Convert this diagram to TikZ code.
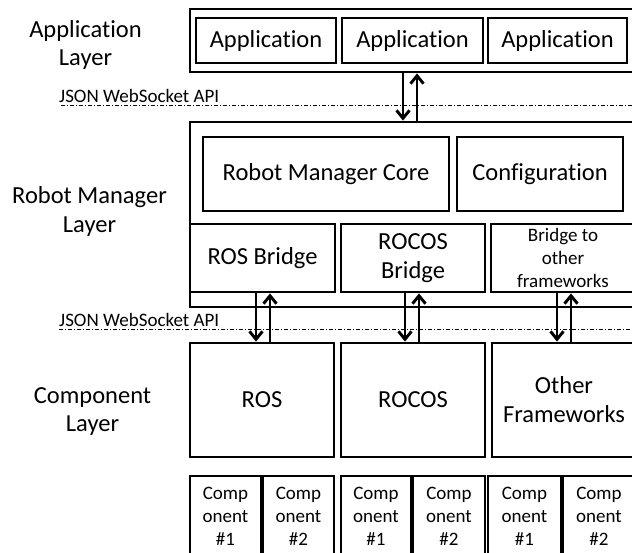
\documentclass[tikz,border=0pt]{standalone}
\usepackage{fontspec}
\setmainfont{Carlito}[Ligatures={NoCommon,NoContextual}]
\usetikzlibrary{arrows.meta,calc}
\begin{document}
\begin{tikzpicture}[x=1pt,y=-1pt,
  box/.style={draw,line width=2.8pt,inner sep=0pt,align=center},
  big/.style={font=\fontsize{24.5}{29}\selectfont},
  small/.style={font=\fontsize{19}{23}\selectfont},
  lbl/.style={inner sep=0pt,align=center,font=\fontsize{24.5}{28.5}\selectfont},
  arr/.style={line width=2.9pt,-{Straight Barb[length=8pt,width=13pt]}},
  api/.style={line width=0.8pt,dash pattern=on 4pt off 2pt on 1pt off 2pt},
  apitext/.style={inner sep=0pt,anchor=base west,font=\fontsize{19}{23}\selectfont}]
\useasboundingbox (0,0) rectangle (632,552);
\clip (0,0) rectangle (632,552);
\fill[white] (0,0) rectangle (632,552);

% layer labels
\node[lbl] (lapp) at (85.5,45) {Application\\Layer};
\node[lbl] (lrm) at (89.5,211.5) {Robot Manager\\Layer};
\node[lbl] (lcomp) at (92.5,411.5) {Component\\Layer};

% API lines
\coordinate (api1) at (61,105);
\coordinate (api1e) at (640,105);
\coordinate (api2) at (59,329);
\coordinate (api2e) at (640,329);
\draw[api] (api1) -- (api1e);
\draw[api] (api2) -- (api2e);
\node[apitext] (t1) at (59,102) {JSON WebSocket API};
\node[apitext] (t2) at (59,326.5) {JSON WebSocket API};

% application layer
\node[box,minimum width=460,minimum height=63] (appouter) at (420,40.5) {};
\node[box,big,minimum width=140,minimum height=45] (app1) at (266,40.5) {Application};
\node[box,big,minimum width=141,minimum height=45] (app2) at (412.5,40.5) {Application};
\node[box,big,minimum width=139,minimum height=45] (app3) at (557.5,40.5) {Application};

% robot manager layer
\node[box,minimum width=460,minimum height=185] (rmouter) at (420,214.5) {};
\node[box,big,minimum width=246,minimum height=74] (core) at (326,174) {Robot Manager Core};
\node[box,big,minimum width=166,minimum height=74] (conf) at (540,174) {Configuration};
\node[box,big,minimum width=145,minimum height=68] (rosb) at (262.5,258) {ROS Bridge};
\node[box,big,minimum width=144,minimum height=68] (rocosb) at (413,258) {ROCOS\\Bridge};
\node[box,small,minimum width=144,minimum height=68] (othb) at (563,258) {Bridge to\\other\\frameworks};

% component layer
\node[box,big,minimum width=144,minimum height=114] (ros) at (262,400) {ROS};
\node[box,big,minimum width=144,minimum height=114] (rocos) at (413,400) {ROCOS};
\node[box,big,minimum width=144,minimum height=114] (oth) at (564,400) {Other\\Frameworks};

\node[box,small,minimum width=71,minimum height=80] (c1) at (225.5,516) {Comp\\onent\\\#1};
\node[box,small,minimum width=71,minimum height=80] (c2) at (298.5,516) {Comp\\onent\\\#2};
\node[box,small,minimum width=70,minimum height=80] (c3) at (376,516) {Comp\\onent\\\#1};
\node[box,small,minimum width=72,minimum height=80] (c4) at (449,516) {Comp\\onent\\\#2};
\node[box,small,minimum width=73,minimum height=80] (c5) at (524.5,516) {Comp\\onent\\\#1};
\node[box,small,minimum width=72,minimum height=80] (c6) at (599,516) {Comp\\onent\\\#2};

% arrows
\coordinate (d0) at ([xshift=-9.5pt]app2.south);
\coordinate (u0) at ([xshift=4.5pt]app2.south);
\draw[arr] (d0 |- appouter.south) -- (d0 |- rmouter.north);
\draw[arr] (u0 |- rmouter.north) -- (u0 |- appouter.south);

\draw[arr] ([xshift=-6.5pt]rosb.south) -- ([xshift=-6.5pt]rosb.south |- ros.north);
\draw[arr] ([xshift=7.5pt]rosb.south |- ros.north) -- ([xshift=7.5pt]rosb.south);
\draw[arr] ([xshift=-8pt]rocosb.south) -- ([xshift=-8pt]rocosb.south |- rocos.north);
\draw[arr] ([xshift=6pt]rocosb.south |- rocos.north) -- ([xshift=6pt]rocosb.south);
\draw[arr] ([xshift=-6pt]othb.south) -- ([xshift=-6pt]othb.south |- oth.north);
\draw[arr] ([xshift=8pt]othb.south |- oth.north) -- ([xshift=8pt]othb.south);
\end{tikzpicture}
\end{document}
